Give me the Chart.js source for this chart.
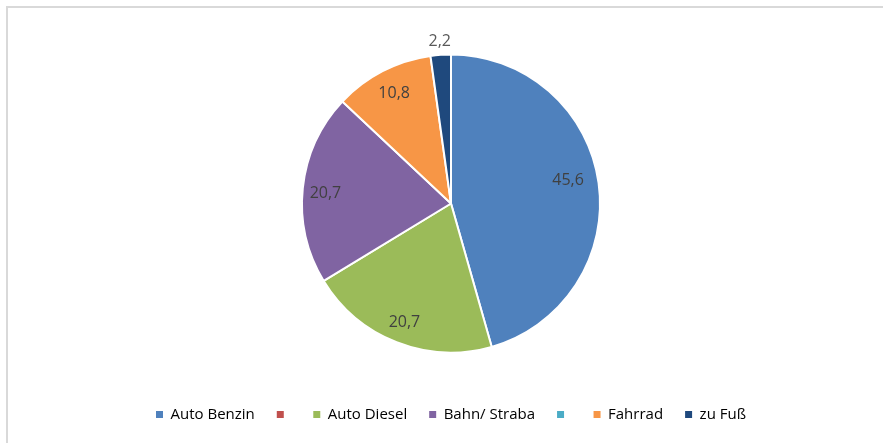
<!DOCTYPE html>
<html>
<head>
<meta charset="utf-8">
<script src="https://cdn.jsdelivr.net/npm/chart.js@4"></script>
<style>
html,body{margin:0;padding:0;background:#fff;}
#frame{position:absolute;left:6px;top:6px;width:877px;height:437px;border-left:2px solid #d9d9d9;border-top:2px solid #d9d9d9;box-sizing:border-box;}
#wrap{position:absolute;left:0;top:0;width:883px;height:443px;}
</style>
</head>
<body>
<div id="frame"></div>
<div id="wrap"><canvas id="c" width="883" height="443"></canvas></div>
<script>
const categories = ["Auto Benzin", "", "Auto Diesel", "Bahn/ Straba", "", "Fahrrad", "zu Fuß"];
const values = [45.6, 0, 20.7, 20.7, 0, 10.8, 2.2];
const colors = ["#4F81BD", "#C0504D", "#9BBB59", "#8064A2", "#4BACC6", "#F79646", "#1F497D"];
const labelRadius = [0.8, 0, 0.855, 0.845, 0, 0.83, 1.09];
const labelAngleShift = [-3, 0, 0, -1.5, 0, 0, 0];

const labelPlugin = {
  id: 'sliceLabels',
  afterDatasetsDraw(chart) {
    const ctx = chart.ctx;
    const meta = chart.getDatasetMeta(0);
    ctx.save();
    ctx.font = '16px "Open Sans"';
    ctx.textAlign = 'center';
    ctx.textBaseline = 'middle';
    meta.data.forEach((arc, i) => {
      const v = values[i];
      if (!v) return;
      const p = arc.getProps(['x','y','startAngle','endAngle','outerRadius'], true);
      const mid = (p.startAngle + p.endAngle) / 2 + labelAngleShift[i] * Math.PI / 180;
      const r = p.outerRadius * labelRadius[i];
      const x = p.x + Math.cos(mid) * r;
      const y = p.y + Math.sin(mid) * r;
      ctx.fillStyle = labelRadius[i] > 1 ? '#595959' : '#404040';
      ctx.fillText(v.toFixed(1).replace('.', ','), x, y);
    });
    ctx.restore();
  }
};

new Chart(document.getElementById('c'), {
  type: 'pie',
  data: {
    labels: categories,
    datasets: [{
      data: values,
      backgroundColor: colors,
      borderColor: '#ffffff',
      borderWidth: 2
    }]
  },
  options: {
    responsive: false,
    animation: false,
    radius: 149,
    layout: { padding: { top: 22, bottom: 11, left: 19, right: 0 } },
    plugins: {
      tooltip: { enabled: false },
      legend: {
        position: 'bottom',
        labels: {
          boxWidth: 7,
          boxHeight: 7,
          padding: 22,
          color: '#595959',
          font: { family: '"Open Sans"', size: 15 },
          generateLabels(chart) {
            return categories.map((c, i) => ({
              text: c,
              fillStyle: colors[i],
              strokeStyle: colors[i],
              lineWidth: 0,
              hidden: false,
              index: i
            }));
          }
        }
      }
    }
  },
  plugins: [labelPlugin]
});
</script>
</body>
</html>
